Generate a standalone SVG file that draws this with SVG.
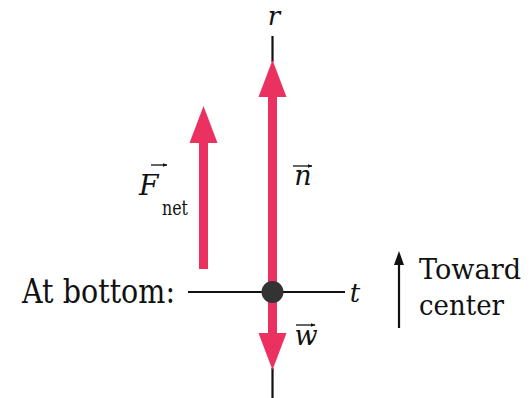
<svg xmlns="http://www.w3.org/2000/svg" width="530" height="398" viewBox="0 0 530 398">
<style>
text{font-family:'DejaVu Serif','Liberation Serif',serif;fill:#111}
.i{font-style:italic}
.ax{stroke:#111;stroke-width:2.2;fill:none}
.red{fill:#EB3160}
.vec{stroke:#111;stroke-width:1.3;fill:none}
</style>
<defs>
<marker id="ah" viewBox="0 0 10 10" refX="9" refY="5" markerWidth="5" markerHeight="5" orient="auto" markerUnits="userSpaceOnUse">
<path d="M0,1 L10,5 L0,9 Z" fill="#111"/>
</marker>
</defs>
<g id="connectors">
<line class="ax" x1="272.5" y1="36" x2="272.5" y2="62"/>
<line class="ax" x1="272.5" y1="368" x2="272.5" y2="398"/>
<line class="ax" x1="188" y1="292" x2="345" y2="292"/>
</g>
<g id="axis-labels">
<text class="i" x="274" y="25" font-size="26" text-anchor="middle">r</text>
<text class="i" x="355" y="302" font-size="26" text-anchor="middle">t</text>
</g>
<g id="n-vector">
<rect class="red" x="268" y="95" width="9" height="197"/>
<polygon class="red" points="272.5,60 286.5,97 258.5,97"/>
<text class="i" x="303" y="185" font-size="27" text-anchor="middle">n</text>
<line class="vec" x1="293" y1="166" x2="312" y2="166" marker-end="url(#ah)"/>
</g>
<g id="w-vector">
<rect class="red" x="268" y="292" width="9" height="43"/>
<polygon class="red" points="272.5,370 286.5,333 258.5,333"/>
<text class="i" x="306" y="345" font-size="27" text-anchor="middle">w</text>
<line class="vec" x1="296" y1="325" x2="315" y2="325" marker-end="url(#ah)"/>
</g>
<g id="particle">
<circle cx="272.5" cy="292" r="11" fill="#333"/>
</g>
<g id="fnet-vector">
<rect class="red" x="199" y="141" width="9" height="128"/>
<polygon class="red" points="203.5,106 217.5,143 189.5,143"/>
<text class="i" x="139" y="195" font-size="28">F</text>
<line class="vec" x1="151" y1="165" x2="167" y2="165" marker-end="url(#ah)"/>
<text x="162" y="215" font-size="20" textLength="26" lengthAdjust="spacingAndGlyphs">net</text>
</g>
<g id="label-bottom">
<text x="22" y="303" font-size="33" textLength="153" lengthAdjust="spacingAndGlyphs">At bottom:</text>
</g>
<g id="toward-center">
<line class="ax" x1="399" y1="262" x2="399" y2="328" stroke-width="2"/>
<polygon points="399,251 404,265 394,265" fill="#111"/>
<text x="419" y="279" font-size="28" textLength="102" lengthAdjust="spacingAndGlyphs">Toward</text>
<text x="419" y="315" font-size="28" textLength="85" lengthAdjust="spacingAndGlyphs">center</text>
</g>
</svg>
